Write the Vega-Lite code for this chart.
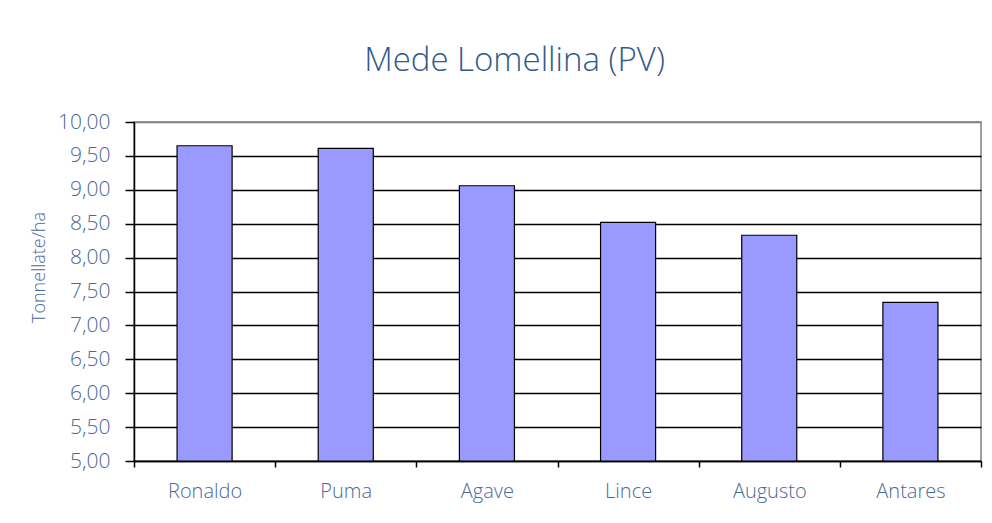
{
  "$schema": "https://vega.github.io/schema/vega-lite/v6.json",
  "width": 847,
  "height": 339,
  "autosize": {"type": "none"},
  "padding": {"left": 134, "top": 122, "right": 11, "bottom": 62},
  "background": "white",
  "config": {
    "locale": {"number": {"decimal": ",", "thousands": ".", "grouping": [3], "currency": ["€", ""]}},
    "font": "Open Sans",
    "view": {"stroke": "#808080", "strokeWidth": 1.5}
  },
  "title": {
    "text": "Mede Lomellina (PV)",
    "font": "Open Sans",
    "fontSize": 33,
    "fontWeight": 300,
    "color": "#2f5a8c",
    "anchor": "middle",
    "dx": -43,
    "baseline": "alphabetic",
    "offset": 7
  },
  "data": {
    "values": [
      {"varieta": "Ronaldo", "resa": 9.65},
      {"varieta": "Puma", "resa": 9.61},
      {"varieta": "Agave", "resa": 9.06},
      {"varieta": "Lince", "resa": 8.52},
      {"varieta": "Augusto", "resa": 8.33},
      {"varieta": "Antares", "resa": 7.34}
    ]
  },
  "mark": {"type": "bar", "fill": "#9999ff", "stroke": "black", "strokeWidth": 1.2, "width": {"band": 0.39}},
  "encoding": {
    "x": {
      "field": "varieta",
      "type": "nominal",
      "sort": null,
      "scale": {"paddingInner": 0, "paddingOuter": 0},
      "axis": {
        "title": null,
        "labelAngle": 0,
        "labelFont": "Open Sans",
        "labelFontSize": 20,
        "labelFontWeight": 300,
        "labelColor": "#4a6a98",
        "labelPadding": 14,
        "tickBand": "extent",
        "tickSize": 6,
        "tickColor": "black",
        "tickWidth": 1.5,
        "domainColor": "black",
        "domainWidth": 1.5,
        "grid": false
      }
    },
    "y": {
      "field": "resa",
      "type": "quantitative",
      "scale": {"domain": [5, 10], "zero": false, "nice": false},
      "axis": {
        "title": "Tonnellate/ha",
        "titleFont": "Open Sans",
        "titleFontSize": 18,
        "titleFontWeight": 300,
        "titleColor": "#4a6a98",
        "titlePadding": 9,
        "titleY": 145,
        "values": [5, 5.5, 6, 6.5, 7, 7.5, 8, 8.5, 9, 9.5, 10],
        "format": ".2f",
        "labelFont": "Open Sans",
        "labelFontSize": 21,
        "labelFontWeight": 300,
        "labelColor": "#4a6a98",
        "labelPadding": 15,
        "tickSize": 9,
        "tickColor": "black",
        "tickWidth": 1.5,
        "domainColor": "black",
        "domainWidth": 1.5,
        "grid": true,
        "gridColor": {"condition": {"test": "datum.value == 10", "value": "#808080"}, "value": "black"},
        "gridWidth": 1.5,
        "gridOpacity": 1
      }
    },
    "y2": {"datum": 5}
  }
}
